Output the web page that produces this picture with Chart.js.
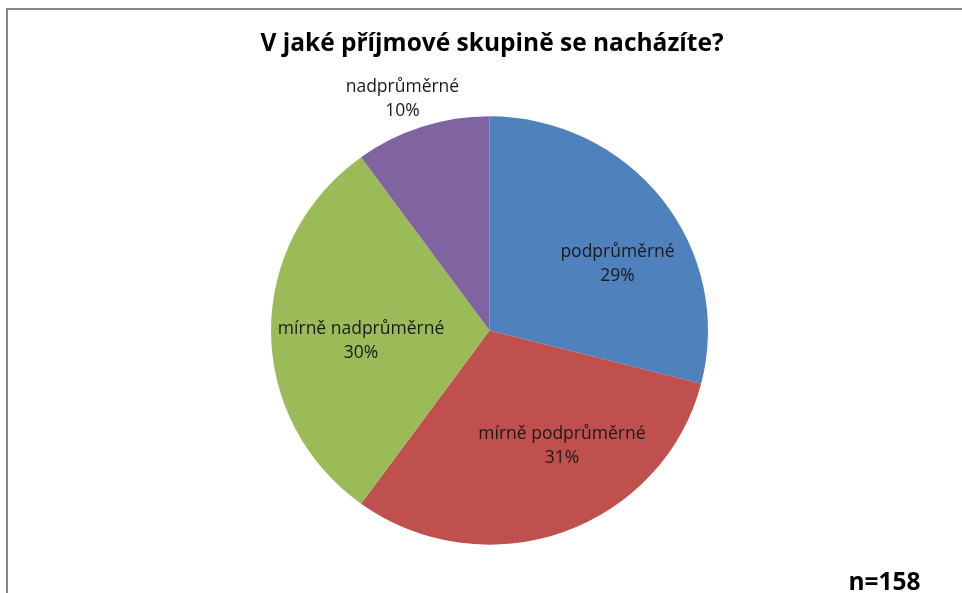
<!DOCTYPE html>
<html>
<head>
<meta charset="utf-8">
<script src="https://cdn.jsdelivr.net/npm/chart.js@4"></script>
<style>
  body { margin: 0; background: #fff; }
  canvas { display: block; }
</style>
</head>
<body>
<canvas id="pie" width="962" height="593"></canvas>
<script>
// answers to the income question, share in percent
var categories = ['podprůměrné', 'mírně podprůměrné', 'mírně nadprůměrné', 'nadprůměrné'];
var shares = [29, 31, 30, 10];
var sliceColors = ['#4F81BD', '#C0504D', '#9BBB59', '#8064A2'];
var titleText = 'V jaké příjmové skupině se nacházíte?';
var sampleText = 'n=158';

var FONT = '"Open Sans", Lato, sans-serif';
var SQUASH = 0.98; // pie is drawn a touch flatter than round

// label spot per slice: turn from mid angle (deg) and distance as part of radius
var labelSpots = [
  { turn: 9.9, dist: 0.663 },
  { turn: -11.7, dist: 0.634 },
  { turn: -4.9, dist: 0.59 },
  { turn: -2.2, dist: 1.154 }
];

function squashAround(chart) {
  var a = chart.chartArea;
  var cy = (a.top + a.bottom) / 2;
  chart.ctx.translate(0, cy);
  chart.ctx.scale(1, SQUASH);
  chart.ctx.translate(0, -cy);
}

var decorPlugin = {
  id: 'decor',
  beforeDraw: function(chart) {
    var ctx = chart.ctx;
    ctx.save();
    // outer frame, runs off the right and bottom edge
    ctx.strokeStyle = '#868686';
    ctx.lineWidth = 2;
    ctx.strokeRect(7, 9, 1000, 700);
    ctx.restore();
  },
  beforeDatasetsDraw: function(chart) {
    chart.ctx.save();
    squashAround(chart);
  },
  afterDatasetsDraw: function(chart) {
    chart.ctx.restore();
  },
  afterDraw: function(chart) {
    var ctx = chart.ctx;
    ctx.save();
    ctx.fillStyle = '#000';
    ctx.textAlign = 'center';
    ctx.textBaseline = 'alphabetic';
    ctx.font = 'bold 24.5px ' + FONT;
    ctx.fillText(titleText, 492, 51);
    ctx.fillText(sampleText, 884.5, 590);

    // slice labels
    var arcs = chart.getDatasetMeta(0).data;
    ctx.font = '17.5px ' + FONT;
    ctx.fillStyle = '#1a1a1a';
    ctx.textBaseline = 'middle';
    arcs.forEach(function(arc, i) {
      var p = arc.getProps(['x', 'y', 'startAngle', 'endAngle', 'outerRadius'], true);
      var spot = labelSpots[i];
      var a = (p.startAngle + p.endAngle) / 2 + spot.turn * Math.PI / 180;
      var r = p.outerRadius * spot.dist;
      var cx = p.x + Math.cos(a) * r;
      var cy = p.y + Math.sin(a) * r * SQUASH;
      ctx.fillText(categories[i], cx, cy - 12);
      ctx.fillText(shares[i] + '%', cx, cy + 12);
    });
    ctx.restore();
  }
};

new Chart(document.getElementById('pie'), {
  type: 'pie',
  data: {
    labels: categories,
    datasets: [{
      data: shares,
      backgroundColor: sliceColors,
      borderWidth: 0
    }]
  },
  options: {
    responsive: false,
    animation: false,
    events: [],
    layout: { padding: { top: 112, bottom: 44, left: 271, right: 254 } },
    plugins: {
      legend: { display: false },
      title: { display: false },
      tooltip: { enabled: false }
    }
  },
  plugins: [decorPlugin]
});
</script>
</body>
</html>
